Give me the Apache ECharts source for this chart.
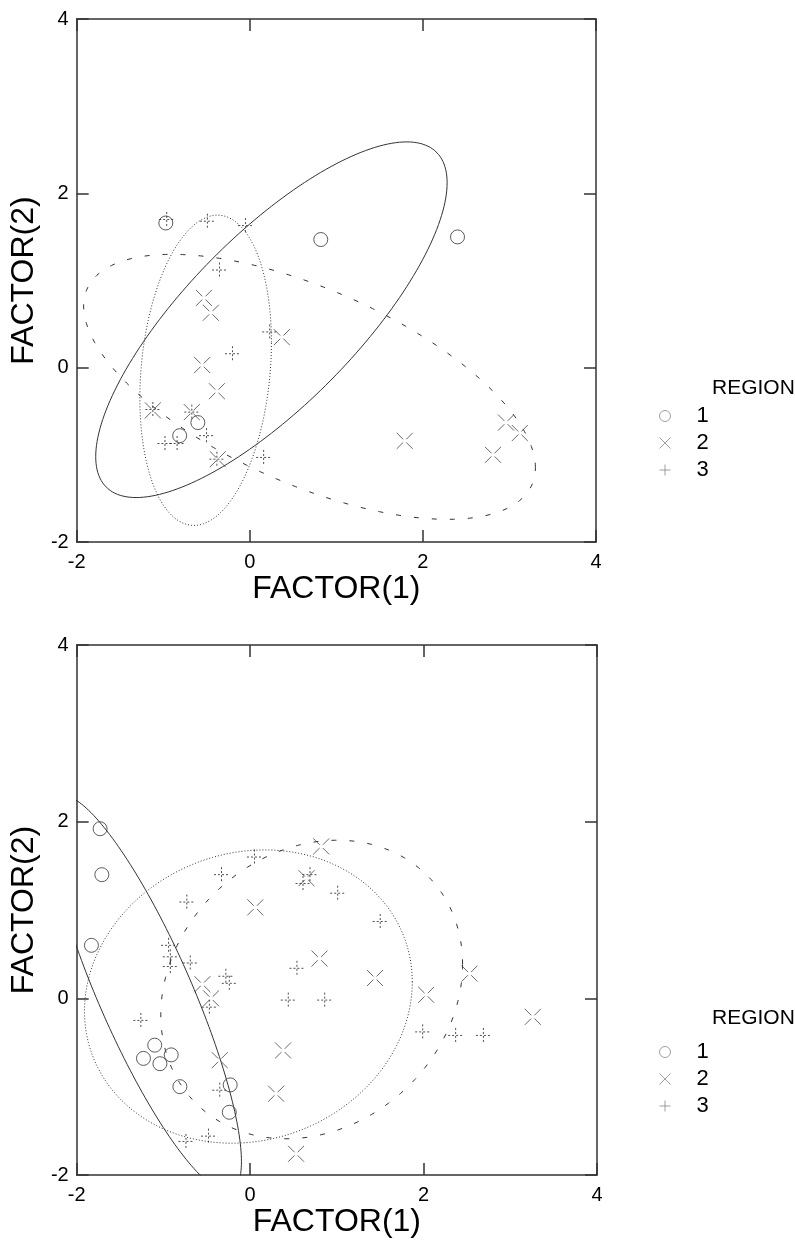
<!DOCTYPE html>
<html>
<head>
<meta charset="utf-8">
<script src="https://cdn.jsdelivr.net/npm/echarts@6.0.0/dist/echarts.min.js"></script>
<style>
  html, body { margin: 0; padding: 0; background: #fff; }
  #chart { width: 795px; height: 1245px; }
</style>
</head>
<body>
<div id="chart"></div>
<script>
// both panels use the same axis range
const axisTicks = [-2, 0, 2, 4];
const regionNames = ['1', '2', '3'];

// top panel points, [FACTOR(1), FACTOR(2)]
const topRegion1 = [[-0.97, 1.66], [0.82, 1.47], [2.40, 1.50], [-0.60, -0.63], [-0.81, -0.78]];
const topRegion2 = [[-0.53, 0.80], [-0.45, 0.63], [0.37, 0.35], [-0.55, 0.03], [-0.38, -0.27],
  [-1.12, -0.49], [-0.67, -0.51], [-0.37, -1.05], [1.79, -0.84], [2.96, -0.63], [3.12, -0.75], [2.81, -1.00]];
const topRegion3 = [[-0.96, 1.70], [-0.49, 1.68], [-0.05, 1.63], [-0.35, 1.12], [0.23, 0.41], [-0.20, 0.16],
  [-1.12, -0.48], [-0.67, -0.51], [-0.50, -0.78], [-0.98, -0.87], [-0.84, -0.87], [-0.38, -1.05], [0.16, -1.03]];

// top panel ellipses per region: centre, spread (x, y), correlation
const topEllipseCenter = [[0.25, 0.55], [0.69, -0.22], [-0.51, -0.03]];
const topEllipseSpread = [[2.03, 2.04], [2.61, 1.52], [0.76, 1.78]];
const topEllipseCorr = [0.77, -0.61, 0.18];

// bottom panel points
const botRegion1 = [[-1.73, 1.92], [-1.71, 1.40], [-1.83, 0.60], [-1.10, -0.53], [-1.23, -0.68],
  [-1.04, -0.74], [-0.91, -0.64], [-0.81, -1.00], [-0.23, -0.98], [-0.24, -1.29]];
const botRegion2 = [[0.06, 1.03], [0.82, 1.72], [0.65, 1.36], [0.80, 0.45], [1.44, 0.23], [2.03, 0.04],
  [2.53, 0.28], [3.26, -0.21], [0.38, -0.59], [0.30, -1.08], [0.53, -1.76], [-0.35, -0.70], [-0.45, 0.00], [-0.55, 0.16]];
const botRegion3 = [[0.05, 1.60], [-0.33, 1.40], [-0.73, 1.09], [-0.94, 0.60], [-0.92, 0.47], [-0.92, 0.36],
  [-0.69, 0.40], [-0.28, 0.25], [-0.24, 0.17], [-0.47, -0.10], [-1.26, -0.25], [-0.35, -1.04], [0.69, 1.40],
  [0.61, 1.30], [1.01, 1.19], [1.50, 0.87], [0.54, 0.34], [0.44, -0.02], [0.86, -0.02], [1.99, -0.38],
  [2.37, -0.42], [2.69, -0.42], [-0.48, -1.56], [-0.74, -1.62]];

const botEllipseCenter = [[-1.21, 0.055], [0.71, 0.10], [-0.02, 0.02]];
const botEllipseSpread = [[1.11, 2.24], [1.74, 1.69], [1.89, 1.66]];
const botEllipseCorr = [-0.85, 0.17, 0.10];

const FONT = 'Liberation Sans, Arial, sans-serif';
const X_PATH = 'path://M0,0L4,4M10,0L6,4M0,10L4,6M10,10L6,6';
const PLUS_PATH = 'path://M0,5L10,5M5,0L5,10';

// contour of an ellipse given centre, spreads and correlation
function ellipse(c, s, r) {
  const th = Math.acos(r);
  const pts = [];
  for (let i = 0; i <= 200; i++) {
    const t = i / 200 * 2 * Math.PI;
    pts.push([c[0] + s[0] * Math.cos(t), c[1] + s[1] * Math.cos(t - th)]);
  }
  return pts;
}

const markerStyles = [
  { symbol: 'circle', symbolSize: 14, itemStyle: { color: 'none', borderColor: '#333', borderWidth: 1 } },
  { symbol: X_PATH, symbolSize: 16, itemStyle: { color: 'none', borderColor: '#444', borderWidth: 1 } },
  { symbol: PLUS_PATH, symbolSize: 15, itemStyle: { color: 'none', borderColor: '#222', borderWidth: 1, borderType: [2, 2] } },
];
const ellipseLines = [
  { color: '#333', width: 1, type: 'solid' },
  { color: '#333', width: 1, type: [5, 13] },
  { color: '#333', width: 1, type: [1, 2] },
];

const panels = [
  { points: [topRegion1, topRegion2, topRegion3], center: topEllipseCenter, spread: topEllipseSpread, corr: topEllipseCorr },
  { points: [botRegion1, botRegion2, botRegion3], center: botEllipseCenter, spread: botEllipseSpread, corr: botEllipseCorr },
];
const grids = [
  { left: 74, top: 19, width: 522, height: 523 },
  { left: 68, top: 645, width: 529, height: 530 },
];

const xAxes = [];
const yAxes = [];
const series = [];

panels.forEach((p, i) => {
  const base = {
    type: 'value', gridIndex: i, min: axisTicks[0], max: axisTicks[axisTicks.length - 1], interval: 2,
    axisLine: { show: true, onZero: false, lineStyle: { color: '#333', width: 1.5 } },
    axisTick: { show: true, inside: true, length: 12, lineStyle: { color: '#333', width: 1.5 } },
    splitLine: { show: false },
  };
  xAxes.push({
    ...base, position: 'bottom',
    name: 'FACTOR(1)', nameLocation: 'middle', nameGap: 29,
    nameTextStyle: { fontSize: 32, color: '#000', fontFamily: FONT },
    axisLabel: { fontSize: 20, color: '#000', margin: 10, fontFamily: FONT },
  });
  xAxes.push({ ...base, position: 'top', axisLabel: { show: false } });
  yAxes.push({
    ...base, position: 'left',
    name: 'FACTOR(2)', nameLocation: 'middle', nameGap: 36, nameRotate: 90,
    nameTextStyle: { fontSize: 32, color: '#000', fontFamily: FONT },
    axisLabel: { fontSize: 20, color: '#000', margin: 8, fontFamily: FONT },
  });
  yAxes.push({ ...base, position: 'right', axisLabel: { show: false } });

  for (let k = 0; k < 3; k++) {
    series.push({
      type: 'line', name: 'ellipse' + k, xAxisIndex: 2 * i, yAxisIndex: 2 * i,
      data: ellipse(p.center[k], p.spread[k], p.corr[k]),
      showSymbol: false, clip: true, silent: true, lineStyle: ellipseLines[k],
    });
  }
  for (let k = 0; k < 3; k++) {
    series.push({
      type: 'scatter', name: regionNames[k], xAxisIndex: 2 * i, yAxisIndex: 2 * i,
      data: p.points[k], silent: true, ...markerStyles[k],
    });
  }
});

const legendIcons = ['circle', 'path://M0,0L10,10M10,0L0,10', PLUS_PATH];
function legendFor(top) {
  return {
    orient: 'vertical', left: 652, top: top, itemGap: 5, itemWidth: 11, itemHeight: 11, selectedMode: false,
    textStyle: { fontSize: 22, color: '#000', fontFamily: FONT, padding: [0, 0, 0, 21] },
    data: regionNames.map((n, k) => ({
      name: n, icon: legendIcons[k],
      itemStyle: { color: 'none', borderColor: '#888', borderWidth: 1, borderType: 'solid' },
    })),
  };
}

const chart = echarts.init(document.getElementById('chart'));
chart.setOption({
  animation: false,
  backgroundColor: '#fff',
  title: [
    { text: 'REGION', left: 707, top: 373, textStyle: { fontSize: 21, fontWeight: 'normal', color: '#000', fontFamily: FONT } },
    { text: 'REGION', left: 707, top: 1003, textStyle: { fontSize: 21, fontWeight: 'normal', color: '#000', fontFamily: FONT } },
  ],
  legend: [legendFor(400), legendFor(1036)],
  grid: grids,
  xAxis: xAxes,
  yAxis: yAxes,
  series: series,
});
</script>
</body>
</html>
